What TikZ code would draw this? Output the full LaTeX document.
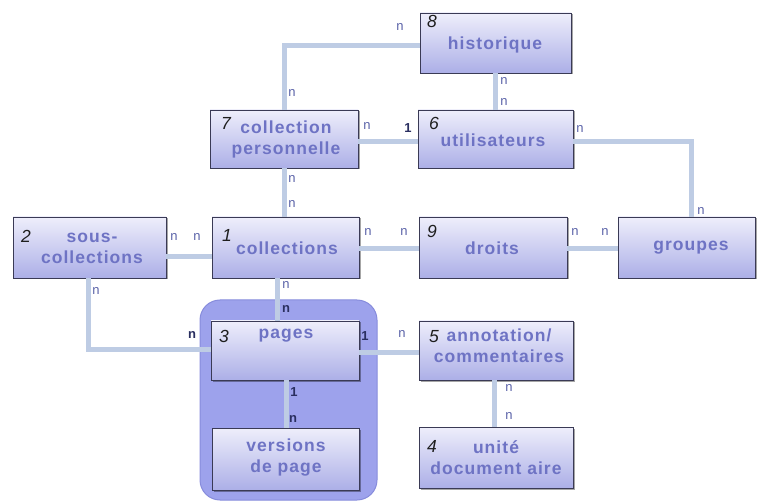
\documentclass[tikz,border=0pt]{standalone}
\usepackage{fontspec}
\setmainfont{Liberation Sans}
\newfontfamily\boxfont[LetterSpace=6]{Liberation Sans}
\usetikzlibrary{shadows}
\definecolor{boxtop}{RGB}{238,238,251}
\definecolor{boxbot}{RGB}{172,175,231}
\definecolor{boxline}{RGB}{58,58,85}
\definecolor{boxtext}{RGB}{110,115,196}
\definecolor{conncol}{RGB}{190,204,228}
\definecolor{labcol}{RGB}{90,98,168}
\definecolor{labdark}{RGB}{42,47,96}
\definecolor{contfill}{RGB}{157,162,236}
\definecolor{contline}{RGB}{135,140,220}
\tikzset{
  box/.style={draw=boxline, line width=0.8pt, top color=boxtop, bottom color=boxbot,
    inner sep=0pt, drop shadow={shadow xshift=1.5pt, shadow yshift=-1.5pt, fill=black, opacity=.35}},
  boxtxt/.style={text=boxtext, font=\boxfont\bfseries\fontsize{17.5}{21}\selectfont, align=center, inner sep=0pt},
  numtxt/.style={font=\fontsize{17.5}{17.5}\selectfont\itshape, text={rgb,255:red,30;green,30;blue,30}, inner sep=0pt, anchor=north west},
  conn/.style={draw=conncol, line width=5pt},
  lab/.style={font=\fontsize{13}{13}\selectfont, text=labcol, inner sep=0pt},
  labd/.style={font=\fontsize{13}{13}\selectfont\bfseries, text=labdark, inner sep=0pt}
}
\begin{document}
\begin{tikzpicture}[x=1pt, y=-1pt]
\useasboundingbox (0,0) rectangle (757,502);
% container
\node[draw=contline, fill=contfill, line width=1pt, rounded corners=20pt, minimum width=177pt, minimum height=200pt, inner sep=0pt] (cont) at (288.5,400) {};
% boxes
\node[box, minimum width=151pt, minimum height=60pt] (b8) at (495.5,43) {};
\node[box, minimum width=155pt, minimum height=58pt] (b6) at (495.5,139) {};
\node[box, minimum width=148pt, minimum height=58pt] (b7) at (284,139) {};
\node[box, minimum width=153pt, minimum height=61pt] (b2) at (89.5,247.5) {};
\node[box, minimum width=147pt, minimum height=61pt] (b1) at (285.5,247.5) {};
\node[box, minimum width=148pt, minimum height=61pt] (b9) at (493,247.5) {};
\node[box, minimum width=137pt, minimum height=61pt] (bg) at (686.5,247.5) {};
\node[box, minimum width=148pt, minimum height=59pt] (b3) at (285,350.5) {};
\node[box, minimum width=154pt, minimum height=59pt] (b5) at (496,350.5) {};
\node[box, minimum width=147pt, minimum height=62pt] (bv) at (285.5,459) {};
\node[box, minimum width=154pt, minimum height=61pt] (b4) at (496,457.5) {};
% box texts
\node[boxtxt] (t8) at (495,45) {historique};
\node[boxtxt] (t6) at (493,140) {utilisateurs};
\node[boxtxt] (t7) at (286,139) {collection\\personnelle};
\node[boxtxt] (t2) at (92,248) {sous-\\collections};
\node[boxtxt] (t1) at (287,248) {collections};
\node[boxtxt] (t9) at (492,248) {droits};
\node[boxtxt] (tg) at (691,248) {groupes};
\node[boxtxt] (t3) at (286,336) {pages};
\node[boxtxt] (t5) at (499,346) {annotation/\\commentaires};
\node[boxtxt] (tv) at (286,458) {versions\\de page};
\node[boxtxt] (t4) at (496,458) {unité\\document aire};
% numbers
\node[numtxt] (n8) at (427,15) {8};
\node[numtxt] (n7) at (221,117) {7};
\node[numtxt] (n6) at (429,117) {6};
\node[numtxt] (n2) at (21,230) {2};
\node[numtxt] (n1) at (222,229) {1};
\node[numtxt] (n9) at (427,225) {9};
\node[numtxt] (n3) at (219,330) {3};
\node[numtxt] (n5) at (429,330) {5};
\node[numtxt] (n4) at (427,440) {4};
% connectors
\draw[conn] ([yshift=-3pt]b8.west) -| (b7.north);
\draw[conn] (b8.south) -- (b8.south |- b6.north);
\draw[conn] ([yshift=-3pt]b7.east) -- ([yshift=-3pt]b7.east -| b6.west);
\draw[conn] ([yshift=-3pt]b6.east) -| ([xshift=4.5pt]bg.north);
\draw[conn] (b7.south) -- (b7.south |- b1.north);
\draw[conn] ([yshift=-9.5pt]b2.east) -- ([yshift=-9.5pt]b2.east -| b1.west);
\draw[conn] ([yshift=-1.5pt]b1.east) -- ([yshift=-1.5pt]b1.east -| b9.west);
\draw[conn] ([yshift=-1.5pt]b9.east) -- ([yshift=-1.5pt]b9.east -| bg.west);
\draw[conn] ([xshift=-8pt]b1.south) -- ([xshift=-8pt]b1.south |- b3.north);
\draw[conn] ([xshift=-1.5pt]b2.south) |- ([yshift=1.5pt]b3.west);
\draw[conn] ([yshift=-1.5pt]b3.east) -- ([yshift=-1.5pt]b3.east -| b5.west);
\draw[conn] ([xshift=1pt]b3.south) -- ([xshift=1pt]b3.south |- bv.north);
\draw[conn] ([xshift=-2pt]b5.south) -- ([xshift=-2pt]b5.south |- b4.north);
% cardinality labels
\node[lab] (l1) at (400,27) {n};
\node[lab] (l2) at (292,93) {n};
\node[lab] (l3) at (504,81) {n};
\node[lab] (l4) at (504,102) {n};
\node[lab] (l5) at (367,126) {n};
\node[labd] (l6) at (408,128) {1};
\node[lab] (l7) at (580,129) {n};
\node[lab] (l8) at (701,211) {n};
\node[lab] (l9) at (292,179) {n};
\node[lab] (l10) at (292,204) {n};
\node[lab] (l11) at (174,237) {n};
\node[lab] (l12) at (197,237) {n};
\node[lab] (l13) at (368,232) {n};
\node[lab] (l14) at (404,232) {n};
\node[lab] (l15) at (575,232) {n};
\node[lab] (l16) at (605,232) {n};
\node[lab] (l17) at (96,291) {n};
\node[labd] (l18) at (192,335) {n};
\node[lab] (l19) at (286,285) {n};
\node[labd] (l20) at (286,309) {n};
\node[labd] (l21) at (365,336) {1};
\node[lab] (l22) at (402,334) {n};
\node[labd] (l23) at (294,392) {1};
\node[labd] (l24) at (293,419) {n};
\node[lab] (l25) at (509,388) {n};
\node[lab] (l26) at (509,416) {n};
\end{tikzpicture}
\end{document}
